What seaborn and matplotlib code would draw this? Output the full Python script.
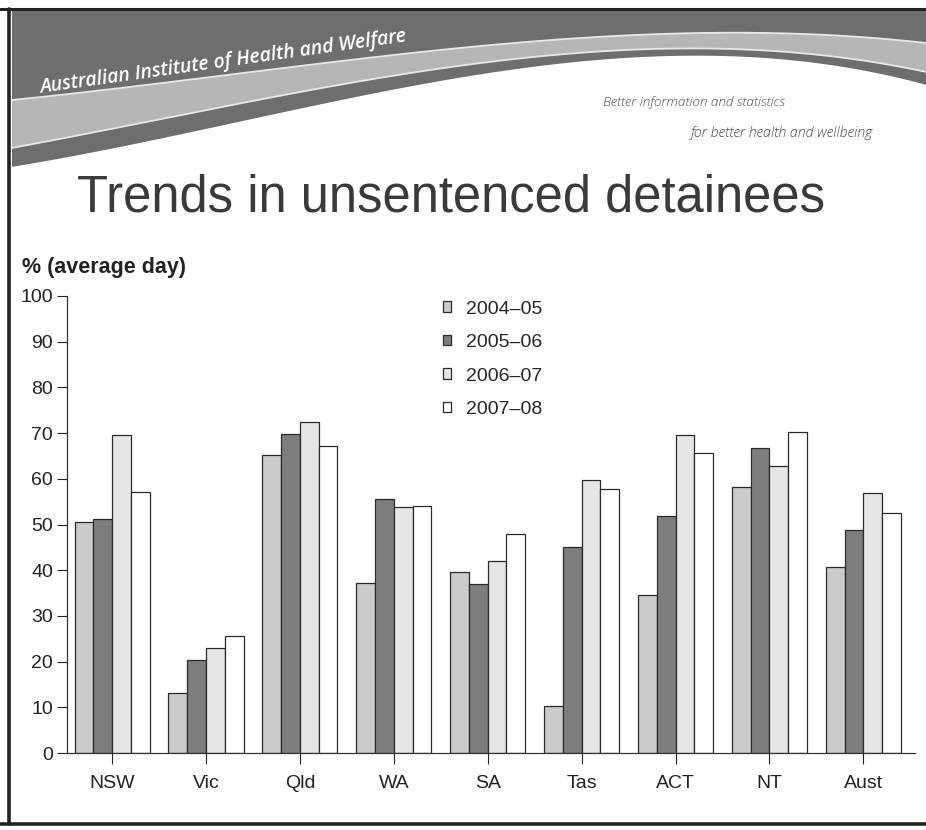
import numpy as np
import pandas as pd
import matplotlib
matplotlib.use("Agg")
import matplotlib.pyplot as plt
from matplotlib import font_manager
from matplotlib.patches import Polygon
import seaborn as sns

# ---------------- data ----------------
states = ["NSW", "Vic", "Qld", "WA", "SA", "Tas", "ACT", "NT", "Aust"]
years = ["2004\u201305", "2005\u201306", "2006\u201307", "2007\u201308"]
v_2004_05 = [50.6, 13.1, 65.2, 37.3, 39.6, 10.3, 34.5, 58.2, 40.8]
v_2005_06 = [51.3, 20.3, 69.9, 55.5, 37.0, 45.0, 51.8, 66.8, 48.7]
v_2006_07 = [69.6, 23.0, 72.5, 53.9, 42.0, 59.8, 69.6, 62.8, 57.0]
v_2007_08 = [57.1, 25.5, 67.2, 54.1, 48.0, 57.8, 65.6, 70.3, 52.6]
y_ticks = list(range(0, 101, 10))

series = [v_2004_05, v_2005_06, v_2006_07, v_2007_08]
df = pd.DataFrame({
    "state": [s for _ in years for s in states],
    "year": [y for y in years for _ in states],
    "value": [v for vals in series for v in vals],
})

# ---------------- style ----------------
sns.set_style("ticks")
names = {f.name for f in font_manager.fontManager.ttflist}
narrow = "Liberation Sans Narrow" if "Liberation Sans Narrow" in names else "Liberation Sans"
is_narrow = narrow == "Liberation Sans Narrow"
plt.rcParams["font.family"] = [narrow, "DejaVu Sans"]
plt.rcParams["axes.edgecolor"] = "#333333"
plt.rcParams["xtick.color"] = "#333333"
plt.rcParams["ytick.color"] = "#333333"

W, H = 926, 830
fig = plt.figure(figsize=(W / 100, H / 100), dpi=100)
fig.patch.set_facecolor("white")


def fx(px):
    return px / W


def fy(py):
    return (H - py) / H


# ---------------- banner decoration ----------------
bg = fig.add_axes([0, 0, 1, 1], zorder=-5)
bg.set_xlim(0, W)
bg.set_ylim(H, 0)
bg.axis("off")

xs_pts = np.array([12, 235, 470, 700, 926])
c1_pts = np.array([100, 74, 47, 33, 43])
c2_pts = np.array([148, 104, 65, 48, 72])
c3_pts = np.array([167, 122, 77, 55, 85])
xx = np.linspace(12, 926, 300)
c1 = np.polyval(np.polyfit(xs_pts, c1_pts, 3), xx)
c2 = np.polyval(np.polyfit(xs_pts, c2_pts, 3), xx)
c3 = np.polyval(np.polyfit(xs_pts, c3_pts, 3), xx)

dark_poly = np.vstack([np.column_stack([xx, np.full_like(xx, 10)]),
                       np.column_stack([xx[::-1], c3[::-1]])])
bg.add_patch(Polygon(dark_poly, closed=True, facecolor="#6e6e6e", edgecolor="none"))
stripe_poly = np.vstack([np.column_stack([xx, c1]),
                         np.column_stack([xx[::-1], c2[::-1]])])
bg.add_patch(Polygon(stripe_poly, closed=True, facecolor="#b6b6b6", edgecolor="none"))
bg.plot(xx, c1, color="#e8e8e8", lw=1.3)
bg.plot(xx, c2, color="#e8e8e8", lw=1.3)

# frame lines (scan border)
bg.plot([0, W], [9, 9], color="#222222", lw=2.2)
bg.plot([9, 9], [9, 824], color="#222222", lw=2.6)
bg.plot([0, W], [824, 824], color="#222222", lw=2.6)

fig.text(fx(40), fy(93), "Australian Institute of Health and Welfare",
         color="white", fontsize=14, fontstyle="italic", fontweight="semibold",
         family=["Open Sans", "DejaVu Sans"], rotation=8, rotation_mode="anchor",
         ha="left", va="baseline")
fig.text(fx(603), fy(106), "Better information and statistics",
         color="#4a4a4a", fontsize=9.7, fontstyle="italic", fontweight="light",
         family=["Open Sans", "DejaVu Sans"], ha="left", va="baseline")
fig.text(fx(873), fy(137), "for better health and wellbeing",
         color="#4a4a4a", fontsize=10.2, fontstyle="italic", fontweight="light",
         family=["Open Sans", "DejaVu Sans"], ha="right", va="baseline")

fig.text(fx(77), fy(211), "Trends in unsentenced detainees",
         color="#3a3a3a", fontsize=44 if is_narrow else 36.5,
         ha="left", va="baseline")

fig.text(fx(22), fy(273), "% (average day)", color="#222222",
         fontsize=17.5 if is_narrow else 15.5, fontweight="bold",
         ha="left", va="baseline")

# ---------------- chart ----------------
left, right, top, bottom = 67, 915, 296, 753
ax = fig.add_axes([fx(left), fy(bottom), fx(right - left), (bottom - top) / H])

palette = ["#cbcbcb", "#7e7e7e", "#e6e6e6", "#ffffff"]
sns.barplot(data=df, x="state", y="value", hue="year", order=states,
            hue_order=years, palette=palette, errorbar=None, width=0.8,
            edgecolor="#2a2a2a", linewidth=0.9, saturation=1, ax=ax)

ax.set_ylim(0, 100)
ax.set_xlim(-0.48, 8.55)
ax.set_yticks(y_ticks)
ax.set_yticklabels([str(t) for t in y_ticks])
ax.set_xlabel("")
ax.set_ylabel("")
ax.tick_params(axis="y", length=7, width=0.8, direction="out",
               labelsize=16 if is_narrow else 14, pad=3, colors="#222222")
ax.tick_params(axis="x", length=8, width=0.8, direction="out",
               labelsize=16 if is_narrow else 14, pad=8, colors="#222222")
sns.despine(ax=ax, top=True, right=True)
ax.spines["left"].set_linewidth(0.9)
ax.spines["bottom"].set_linewidth(0.9)

handles, labels = ax.get_legend_handles_labels()
ax.legend(handles, labels, loc="upper left", bbox_to_anchor=(0.443, 0.99),
          frameon=False, fontsize=16.5 if is_narrow else 14,
          handlelength=0.45, handleheight=0.45, handletextpad=0.75,
          labelspacing=0.85, borderpad=0, borderaxespad=0)

fig.savefig("out.png", dpi=100, facecolor="white")
